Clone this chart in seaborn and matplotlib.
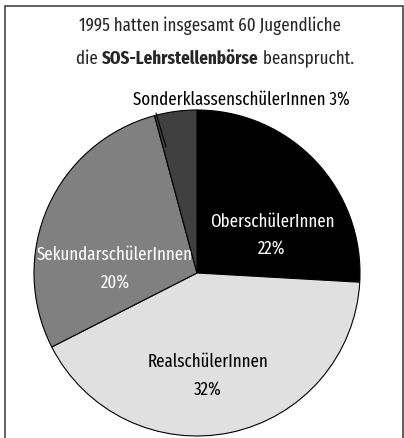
import matplotlib
matplotlib.use("Agg")
import matplotlib.pyplot as plt
import seaborn as sns
from matplotlib.patches import Rectangle

sns.set_style("white")
FAM = ["Fira Sans Extra Condensed", "DejaVu Sans"]
plt.rcParams["font.family"] = FAM

names = ["OberschülerInnen", "RealschülerInnen", "SekundarschülerInnen", "SonderklassenschülerInnen"]
label_pct = [22, 32, 20, 3]
# wedge shares as drawn in the picture
shares = [25.9, 41.6, 28.3, 4.2]
colors = ["#000000", "#e0e0e0", "#808080", "#404040"]
title1 = "1995 hatten insgesamt 60 Jugendliche"
title2 = ["die ", "SOS-Lehrstellenbörse", " beansprucht."]

W, H = 404, 439
fig = plt.figure(figsize=(W / 100, H / 100), dpi=100)
renderer = fig.canvas.get_renderer()

def fit_size(s, target_px, weight="normal"):
    t = fig.text(0, 0, s, fontsize=10, fontweight=weight)
    w = t.get_window_extent(renderer).width
    t.remove()
    return 10 * target_px / w

fs_lab = fit_size(names[0], 124)
fs_tit = fit_size(title1, 262)

cx, cy, R = 197, 274, 163
ax = fig.add_axes([(cx - R) / W, (H - cy - R) / H, 2 * R / W, 2 * R / H])
ax.pie(shares, colors=colors, startangle=90, counterclock=False, radius=1,
       wedgeprops=dict(edgecolor="black", linewidth=0.8))
ax.set_xlim(-1, 1)
ax.set_ylim(-1, 1)
ax.set_aspect("equal")
ax.axis("off")

def d(px, py):
    return (px - cx) / R, (cy - py) / R

tk = dict(ha="center", va="center", fontsize=fs_lab)
ax.text(*d(272, 222), names[0], color="white", **tk)
ax.text(*d(272, 248), f"{label_pct[0]}%", color="white", **tk)
ax.text(*d(208, 362), names[1], color="black", **tk)
ax.text(*d(208, 389), f"{label_pct[1]}%", color="black", **tk)
ax.text(*d(115, 255), names[2], color="white", **tk)
ax.text(*d(115, 282), f"{label_pct[2]}%", color="white", **tk)
t = ax.text(*d(241, 99), f"{names[3]} {label_pct[3]}%", color="black", **tk)
t.set_clip_on(False)
x0, y0 = d(156, 114)
x1, y1 = d(166, 148)
ax.plot([x0, x1], [y0, y1], color="black", lw=0.8, clip_on=False)

# title
fig.text(210 / W, 1 - 26 / H, title1, ha="center", va="center", fontsize=fs_tit)
parts = []
for i, s in enumerate(title2):
    tt = fig.text(0, 1 - 59 / H, s, ha="left", va="center", fontsize=fs_tit,
                  fontweight="bold" if i == 1 else "normal")
    parts.append(tt)
widths = [p.get_window_extent(renderer).width for p in parts]
x = 215 - sum(widths) / 2
for p, w in zip(parts, widths):
    p.set_x(x / W)
    x += w

# frame
fig.patches.append(Rectangle((5 / W, -0.05), (403 - 5) / W, (H - 7) / H + 0.05,
                             transform=fig.transFigure, fill=False,
                             edgecolor="#444444", linewidth=1.2))

fig.savefig("out.png", dpi=100)
